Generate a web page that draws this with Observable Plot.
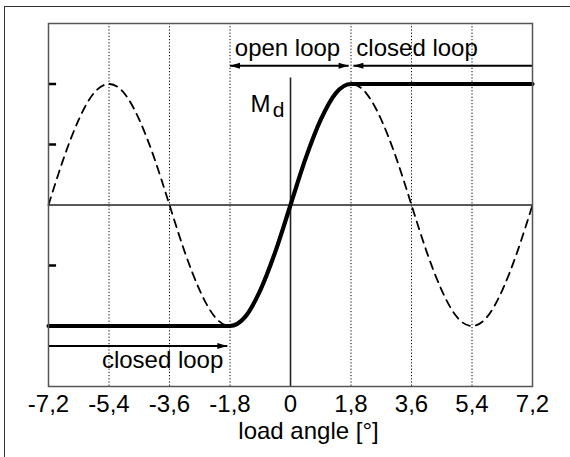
<!DOCTYPE html>
<html>
<head>
<meta charset="utf-8">
<script src="https://cdn.jsdelivr.net/npm/d3@7"></script>
<script src="https://cdn.jsdelivr.net/npm/@observablehq/plot@0.6"></script>
<style>
  html, body { margin: 0; padding: 0; background: #fff; overflow: hidden; }
  #wrap { position: relative; width: 570px; height: 457px; overflow: hidden; }
  #border { position: absolute; left: 4px; top: 6px; width: 700px; height: 700px;
            border: 1.5px solid #333; box-sizing: border-box; pointer-events: none; }
  svg { font-family: "Liberation Sans", Arial, sans-serif; }
</style>
</head>
<body>
<div id="wrap"><div id="border"></div></div>
<script>
// ---- data ----
const xTicks = [-7.2, -5.4, -3.6, -1.8, 0, 1.8, 3.6, 5.4, 7.2];
const xTickLabels = ["-7,2", "-5,4", "-3,6", "-1,8", "0", "1,8", "3,6", "5,4", "7,2"];
const gridX = [-5.4, -3.6, -1.8, 1.8, 3.6, 5.4];
const yTickMarks = [-2, -1, 1, 2];

// dashed curve (load-angle characteristic, read every 0.45°)
const sineX = [-7.2, -6.75, -6.3, -5.85, -5.4, -4.95, -4.5, -4.05, -3.6, -3.15, -2.7, -2.25, -1.8, -1.35, -0.9, -0.45,
               0, 0.45, 0.9, 1.35, 1.8, 2.25, 2.7, 3.15, 3.6, 4.05, 4.5, 4.95, 5.4, 5.85, 6.3, 6.75, 7.2];
const sineY = [0, 0.77, 1.41, 1.85, 2, 1.85, 1.41, 0.77, 0, -0.77, -1.41, -1.85, -2, -1.85, -1.41, -0.77,
               0, 0.77, 1.41, 1.85, 2, 1.85, 1.41, 0.77, 0, -0.77, -1.41, -1.85, -2, -1.85, -1.41, -0.77, 0];

// thick curve M_d
const mdX = [-7.2, -1.8, -1.35, -0.9, -0.45, 0, 0.45, 0.9, 1.35, 1.8, 7.2];
const mdY = [-2, -2, -1.85, -1.41, -0.77, 0, 0.77, 1.41, 1.85, 2, 2];

// region annotations
const arrowLabels = ["open loop", "closed loop", "closed loop"];
const arrowX1 = [-1.8, 7.2, -7.2];
const arrowX2 = [1.73, 1.87, -1.88];
const arrowY = [2.3, 2.3, -2.33];
const axisTopY = 2.1;
const xLabel = "load angle [°]";

// ---- build ----
const arrows = arrowLabels.map((label, i) => ({label, x1: arrowX1[i], x2: arrowX2[i], y: arrowY[i]}));
const sine = sineX.map((x, i) => ({x, y: sineY[i]}));
const md = mdX.map((x, i) => ({x, y: mdY[i]}));

const headRight = {draw(ctx) { ctx.moveTo(0, 0); ctx.lineTo(-10, -3); ctx.lineTo(-10, 3); ctx.closePath(); }};
const headLeft = {draw(ctx) { ctx.moveTo(0, 0); ctx.lineTo(10, -3); ctx.lineTo(10, 3); ctx.closePath(); }};

const heads = [
  {x: arrows[0].x1, y: arrows[0].y, dir: "L"},
  {x: arrows[0].x2, y: arrows[0].y, dir: "R"},
  {x: arrows[1].x2, y: arrows[1].y, dir: "L"},
  {x: arrows[2].x2, y: arrows[2].y, dir: "R"}
];

const FS = 24;
const chart = Plot.plot({
  width: 570,
  height: 457,
  marginLeft: 48,
  marginRight: 38,
  marginTop: 23,
  marginBottom: 71,
  style: {fontFamily: '"Liberation Sans", Arial, sans-serif', fontSize: FS + "px", color: "#000", background: "transparent"},
  x: {domain: [-7.2, 7.2]},
  y: {domain: [-3, 3], axis: null},
  marks: [
    Plot.ruleX(gridX, {stroke: "#000", strokeWidth: 1, strokeDasharray: "1.2,2"}),
    Plot.ruleY([0], {stroke: "#222", strokeWidth: 1.4}),
    Plot.ruleX([0], {y1: -3, y2: axisTopY, stroke: "#222", strokeWidth: 1.6}),
    Plot.ruleY(yTickMarks, {x1: -7.2, x2: -6.96, stroke: "#000", strokeWidth: 2.5}),
    Plot.line(sine, {x: "x", y: "y", curve: "natural", stroke: "#000", strokeWidth: 1.8, strokeDasharray: "8,6"}),
    Plot.line(md, {x: "x", y: "y", curve: "monotone-x", stroke: "#000", strokeWidth: 4.2}),
    Plot.link(arrows, {x1: "x1", x2: "x2", y1: "y", y2: "y", stroke: "#000", strokeWidth: 2}),
    Plot.dot(heads.filter(d => d.dir === "R"), {x: "x", y: "y", symbol: headRight, fill: "#000", stroke: "none"}),
    Plot.dot(heads.filter(d => d.dir === "L"), {x: "x", y: "y", symbol: headLeft, fill: "#000", stroke: "none"}),
    Plot.text([arrows[0]], {x: 0, y: "y", text: "label", dx: -3, dy: -10, lineAnchor: "bottom", textAnchor: "middle", fontSize: FS, fill: "#000"}),
    Plot.text([arrows[1]], {x: "x2", y: "y", text: "label", dx: 3, dy: -10, lineAnchor: "bottom", textAnchor: "start", fontSize: FS, fill: "#000"}),
    Plot.text([arrows[2]], {x: "x2", y: "y", text: "label", dx: -4, dy: 22, lineAnchor: "bottom", textAnchor: "end", fontSize: FS, fill: "#000"}),
    Plot.text(["M"], {x: 0, y: axisTopY, text: d => d, dx: -20, dy: 34, lineAnchor: "bottom", textAnchor: "end", fontSize: 24, fill: "#000"}),
    Plot.text(["d"], {x: 0, y: axisTopY, text: d => d, dx: -6, dy: 39, lineAnchor: "bottom", textAnchor: "end", fontSize: 21, fill: "#000"}),
    Plot.axisX(xTicks, {tickSize: 0, tickPadding: 8, tickFormat: d => xTickLabels[xTicks.indexOf(d)], fontSize: FS, label: null, fill: "#000"}),
    Plot.text([xLabel], {frameAnchor: "bottom", text: d => d, dx: 18, dy: 52, lineAnchor: "bottom", fontSize: FS, fill: "#000"}),
    Plot.frame({stroke: "#555", strokeWidth: 1.5})
  ]
});
document.getElementById("wrap").appendChild(chart);
</script>
</body>
</html>
